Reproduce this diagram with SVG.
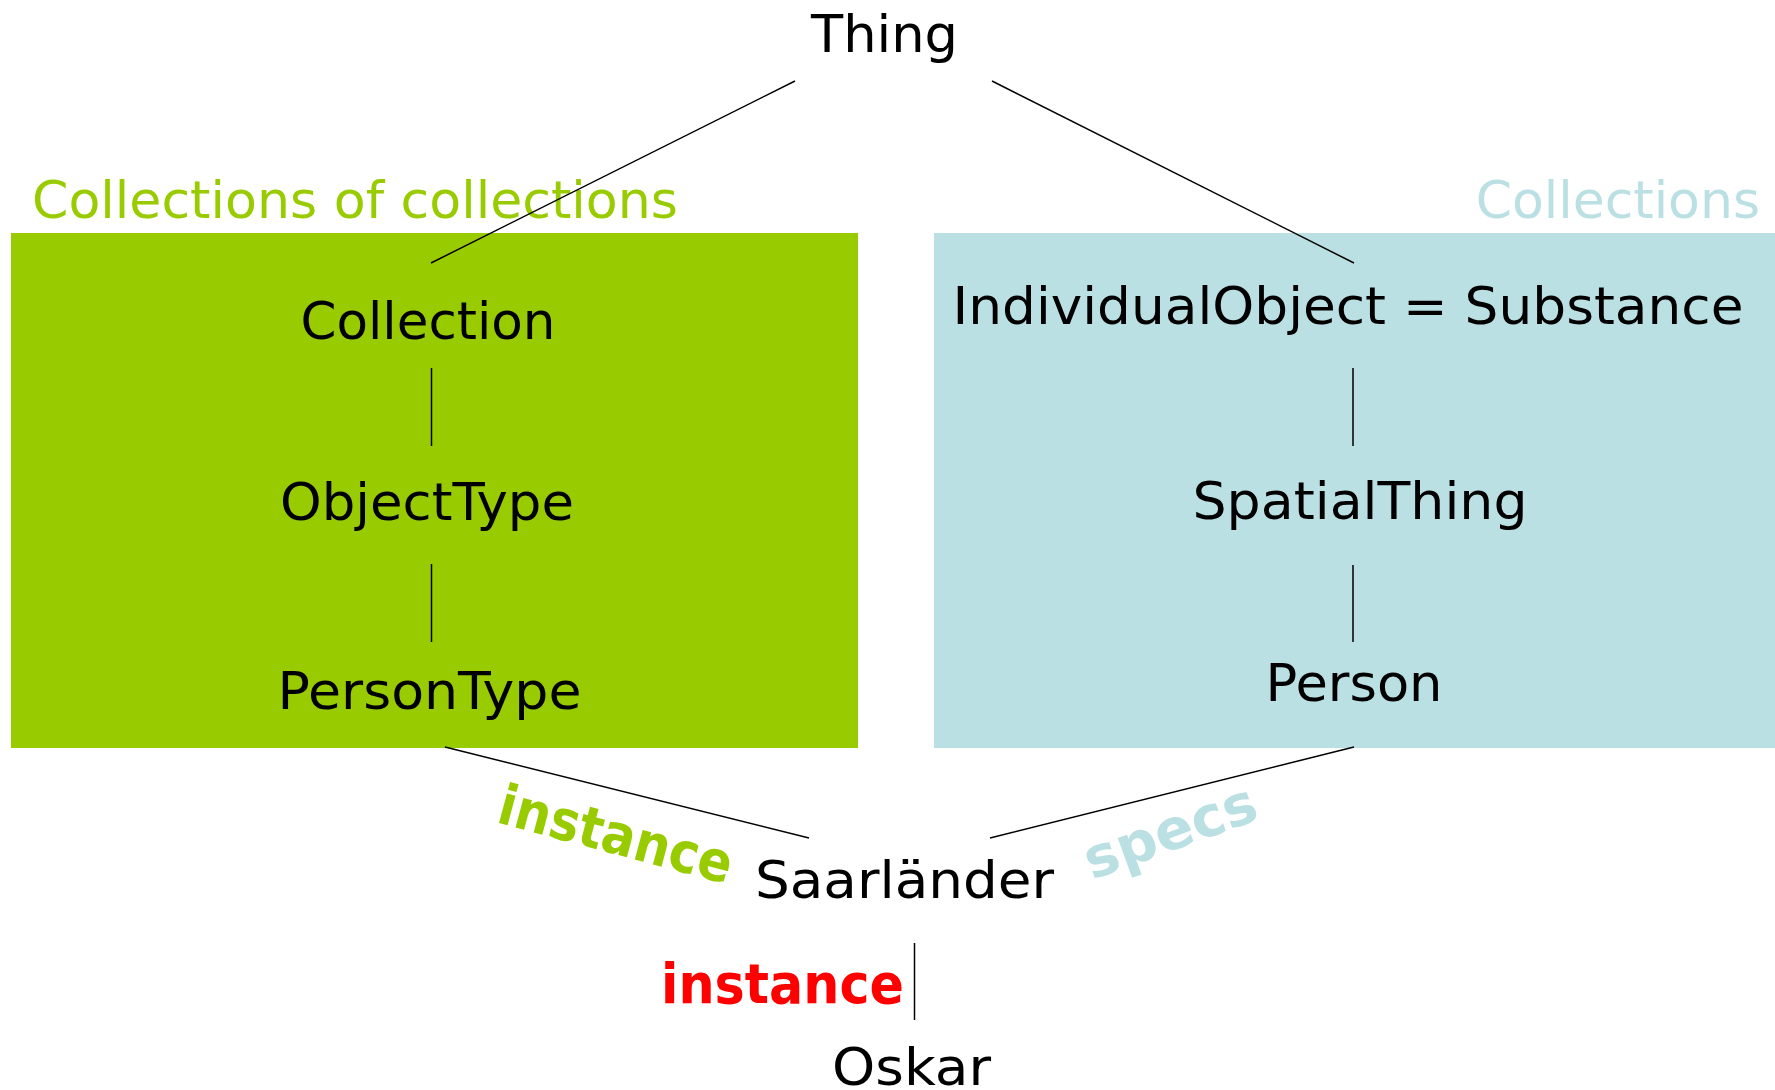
<svg xmlns="http://www.w3.org/2000/svg" width="1775" height="1090" viewBox="0 0 1775 1090">
<style>
.n{font-family:"DejaVu Sans","Liberation Sans",sans-serif;font-size:52px;fill:#000;text-anchor:middle}
.h{font-family:"DejaVu Sans","Liberation Sans",sans-serif;font-size:52px}
.lbl{font-family:"DejaVu Sans","Liberation Sans",sans-serif;font-weight:bold;font-size:56px}
.c{stroke:#000;stroke-width:1.5;fill:none}
</style>
<g id="region-green">
<rect x="11" y="233" width="847" height="515" fill="#99CC00"/>
<text class="h" x="32" y="218" fill="#99CC00" textLength="646" lengthAdjust="spacingAndGlyphs">Collections of collections</text>
</g>
<g id="region-blue">
<rect x="934" y="233" width="841" height="515" fill="#BBE0E3"/>
<text class="h" x="1760" y="218" fill="#BBE0E3" text-anchor="end">Collections</text>
</g>
<g id="connectors">
<line class="c" x1="795" y1="81" x2="431" y2="263"/>
<line class="c" x1="992" y1="81" x2="1354" y2="263"/>
<line class="c" x1="431.5" y1="368" x2="431.5" y2="446"/>
<line class="c" x1="431.5" y1="564" x2="431.5" y2="642"/>
<line class="c" x1="1353" y1="368" x2="1353" y2="446"/>
<line class="c" x1="1353" y1="565" x2="1353" y2="642"/>
<line class="c" x1="445" y1="747" x2="809" y2="838"/>
<line class="c" x1="1354" y1="747" x2="990" y2="838"/>
<line class="c" x1="914.5" y1="943" x2="914.5" y2="1020"/>
</g>
<g id="label-instance-green">
<text class="lbl" fill="#99CC00" transform="translate(495,822) rotate(15)" textLength="240" lengthAdjust="spacingAndGlyphs">instance</text>
</g>
<g id="label-specs">
<text class="lbl" fill="#BBE0E3" transform="translate(1092,880) rotate(-20)" textLength="180" lengthAdjust="spacingAndGlyphs">specs</text>
</g>
<g id="label-instance-red">
<text class="lbl" fill="#FF0000" x="661" y="1003" textLength="243" lengthAdjust="spacingAndGlyphs">instance</text>
</g>
<g id="node-thing"><text class="n" x="884.5" y="52" textLength="147" lengthAdjust="spacingAndGlyphs">Thing</text></g>
<g id="node-collection"><text class="n" x="428" y="339" textLength="255" lengthAdjust="spacingAndGlyphs">Collection</text></g>
<g id="node-objecttype"><text class="n" x="427" y="520" textLength="294" lengthAdjust="spacingAndGlyphs">ObjectType</text></g>
<g id="node-persontype"><text class="n" x="429.5" y="709" textLength="304" lengthAdjust="spacingAndGlyphs">PersonType</text></g>
<g id="node-individualobject"><text class="n" x="1348" y="324" textLength="791" lengthAdjust="spacingAndGlyphs">IndividualObject = Substance</text></g>
<g id="node-spatialthing"><text class="n" x="1360" y="519" textLength="335" lengthAdjust="spacingAndGlyphs">SpatialThing</text></g>
<g id="node-person"><text class="n" x="1354" y="701" textLength="177" lengthAdjust="spacingAndGlyphs">Person</text></g>
<g id="node-saarlaender"><text class="n" x="904.5" y="898" textLength="299" lengthAdjust="spacingAndGlyphs">Saarländer</text></g>
<g id="node-oskar"><text class="n" x="911.5" y="1085" textLength="159" lengthAdjust="spacingAndGlyphs">Oskar</text></g>
</svg>
